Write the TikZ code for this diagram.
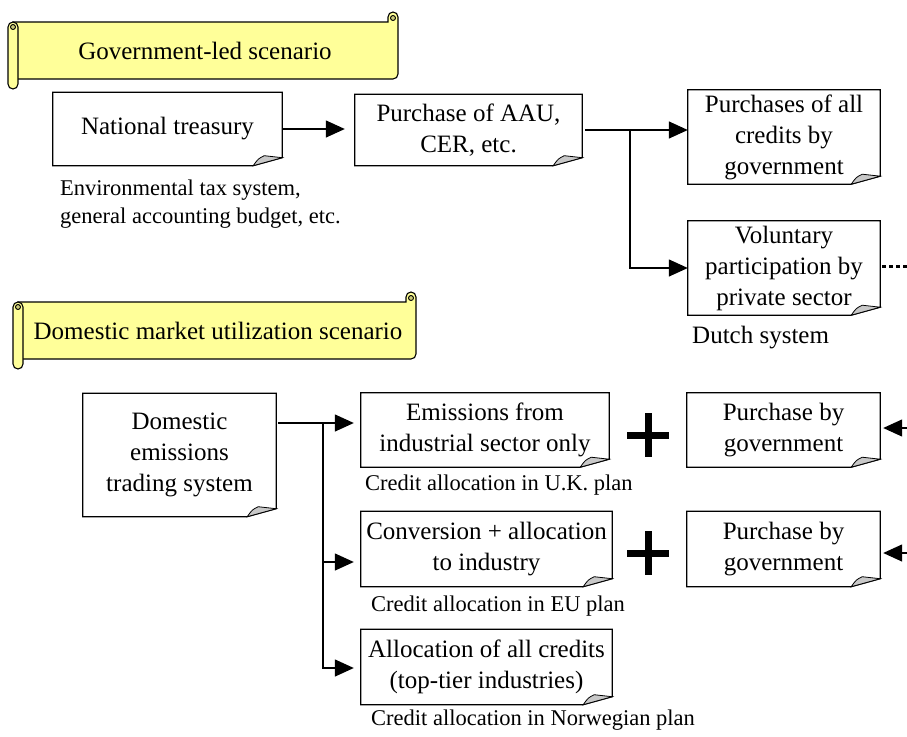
\documentclass[tikz,border=0pt]{standalone}
\usepackage{fontspec}
\setmainfont{Liberation Serif}
\usetikzlibrary{arrows.meta,calc}

\definecolor{parchment}{HTML}{FFFF99}
\definecolor{curlshade}{HTML}{CCCC7A}
\definecolor{flapgrey}{HTML}{C8C8C8}

% Horizontal scroll banner: #1 left, #2 top, #3 right, #4 bottom (y grows downward)
\newcommand\scrollbanner[4]{%
  \filldraw[scrollstyle] (#1+5,#4-10) -- (#3-5,#4-10)
    arc[start angle=90,end angle=0,radius=5]
    -- (#3,#2+5)
    arc[start angle=0,end angle=-180,radius=5]
    -- (#3-10,#2+10) -- (#1+5,#2+10) -- cycle;
  \filldraw[curlstyle] (#3-5,#2+6) circle[radius=2.5];
  \filldraw[scrollstyle, rounded corners=5pt] (#1,#2+10) rectangle (#1+10,#4);
  \filldraw[curlstyle] (#1+5,#2+15) circle[radius=2.5];
}

\begin{document}
\begin{tikzpicture}[x=1pt,y=-1pt,
  scrollstyle/.style={fill=parchment, draw=black, line width=1.1pt},
  curlstyle/.style={fill=curlshade, draw=black, line width=0.9pt},
  box/.style={align=center, inner sep=0pt, font=\fontsize{25}{31}\selectfont},
  banner/.style={inner sep=0pt, font=\fontsize{25}{31}\selectfont},
  note/.style={inner sep=0pt, anchor=west, align=left, font=\fontsize{22.5}{28}\selectfont},
  outline/.style={draw=black, line width=1.2pt, line join=miter},
  flapstyle/.style={fill=flapgrey, draw=black, line width=0.8pt},
  arr/.style={line width=1.4pt, -{Triangle[length=19pt 0 0,width=17pt 0]}},
  dotline/.style={line width=3pt, dash pattern=on 4pt off 3pt},
  plus/.style={line width=7pt}]

\useasboundingbox (0,0) rectangle (907,736);

% scroll banners and their titles
\scrollbanner{8}{12}{398}{89}
\node[banner] (b1) at (205,51) {Government-led scenario};
\scrollbanner{13}{292}{416}{369}
\node[banner] (b2) at (218,331) {Domestic market utilization scenario};

% government-led boxes
\node[box, minimum width=229pt, minimum height=73pt] (nt) at (167.5,129) {National treasury};
\node[box, minimum width=227pt, minimum height=71pt] (pa) at (468.5,130) {Purchase of AAU,\\CER, etc.};
\node[box, minimum width=192pt, minimum height=94pt] (pc) at (784,137) {Purchases of all\\credits by\\government};
\node[box, minimum width=192pt, minimum height=94pt] (vp) at (784,268) {Voluntary\\participation by\\private sector};

% domestic market boxes
\node[box, minimum width=193pt, minimum height=123pt] (de) at (179.5,455) {Domestic\\emissions\\trading system};
\node[box, minimum width=248pt, minimum height=74pt] (em) at (485,430) {Emissions from\\industrial sector only};
\node[box, minimum width=251pt, minimum height=75pt] (cv) at (486.5,549) {Conversion + allocation\\to industry};
\node[box, minimum width=251pt, minimum height=75pt] (al) at (486.5,667) {Allocation of all credits\\(top-tier industries)};
\node[box, minimum width=193pt, minimum height=74pt] (pg1) at (783.5,430) {Purchase by\\government};
\node[box, minimum width=193pt, minimum height=75pt] (pg2) at (783.5,549) {Purchase by\\government};

% folded-corner outlines
\foreach \n in {nt,pa,pc,vp,de,em,cv,al,pg1,pg2} {
  \draw[outline] (\n.north west) -- (\n.north east) -- ($(\n.south east)+(0,-8)$)
    -- ($(\n.south east)+(-29,0)$) -- (\n.south west) -- cycle;
  \draw[flapstyle] ($(\n.south east)+(-29,0)$) .. controls ($(\n.south east)+(-24,-7)$) ..
    ($(\n.south east)+(-18,-10)$) -- ($(\n.south east)+(0,-8)$) -- cycle;
}

% captions
\node[note] (tx) at (60,204) {Environmental tax system,\\general accounting budget, etc.};
\node[box, anchor=west] (du) at (692,338) {Dutch system};
\node[note] (uk) at (365,485) {Credit allocation in U.K. plan};
\node[note] (eu) at (371,606) {Credit allocation in EU plan};
\node[note] (no) at (371,720) {Credit allocation in Norwegian plan};

% government-led connectors
\draw[arr, shorten <=1pt, shorten >=10pt] (nt.east) -- (nt.east -| pa.west);
\coordinate (j1) at (630,130);
\draw[arr, shorten <=3pt] (pa.east) -- (pa.east -| pc.west);
\draw[arr] (j1) |- (vp.west);
\coordinate (r0) at (915,266);
\draw[dotline, shorten <=2pt] (r0 -| vp.east) -- (r0);

% domestic market connectors
\coordinate (j2) at (323,423);
\draw[arr, shorten <=2pt, shorten >=7pt] (de.east |- j2) -- (em.west |- j2);
\draw[arr, shorten >=7pt] (j2) |- ($(cv.west)+(0,13)$);
\draw[arr, shorten >=7pt] (j2) |- ($(al.west)+(0,1)$);
\coordinate (r1) at (915,428);
\draw[arr, shorten >=3pt] (r1) -- (r1 -| pg1.east);
\coordinate (r2) at (915,553);
\draw[arr, shorten >=3pt] (r2) -- (r2 -| pg2.east);

% plus signs
\draw[plus] (627,435) -- (669,435) (648,413) -- (648,457);
\draw[plus] (627,553) -- (669,553) (648,531) -- (648,575);

\end{tikzpicture}
\end{document}
